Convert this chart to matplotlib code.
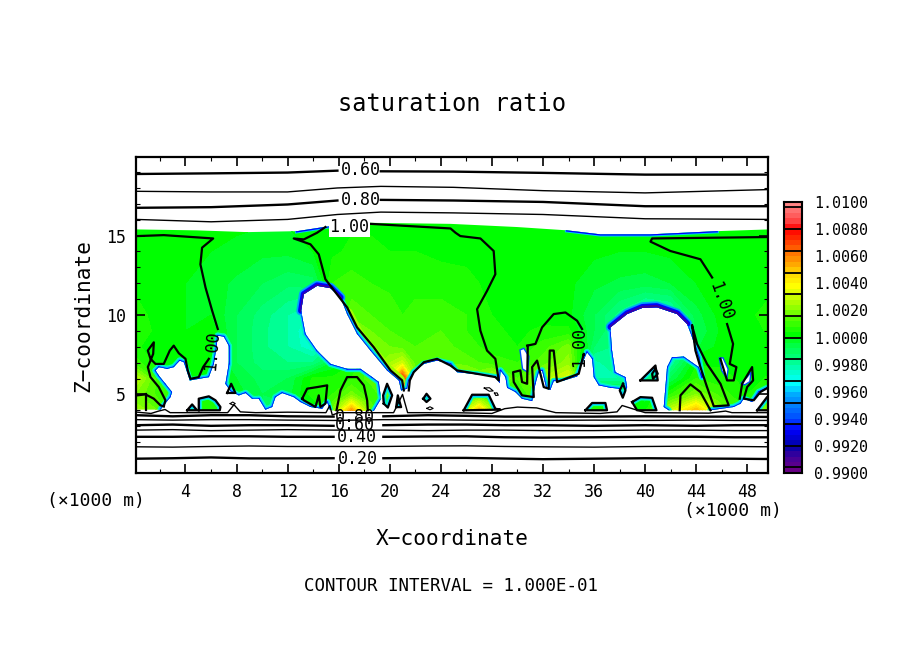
import numpy as np
import matplotlib
matplotlib.use("Agg")
import matplotlib.pyplot as plt
from matplotlib.collections import LineCollection
from matplotlib.colors import LinearSegmentedColormap
from matplotlib.path import Path

plt.rcParams['font.family'] = 'DejaVu Sans Mono'

# field, (ratio - 1) * 1e4 on a coarse grid
x_f = [0,2,4,6,8,10,12,14,15.5,17,18.5,20,21,22,24,26,27,28,30,32,34,36,38,40,42,44,46,48,50]
z_f = [4,4.5,5,6,7,8,9,10,12,14,16]
f_z04 = [25,15,8,6,2,-8,-8,0,15,58,15,5,10,10,5,30,52,25,5,12,8,5,3,3,30,52,20,5,25]
f_z045 = [20,12,6,6,0,-8,-8,2,12,35,12,8,25,15,5,20,30,15,6,14,10,5,2,0,18,35,14,5,18]
f_z05 = [20,10,4,5,-2,-8,-6,6,8,18,8,18,45,15,8,10,12,8,8,18,12,3,0,-5,8,20,10,4,10]
f_z06 = [30,8,3,4,-4,-10,-8,5,5,8,14,40,75,22,30,25,20,28,12,25,35,-20,-20,-15,-8,8,6,2,5]
f_z07 = [10,2,0,2,-8,-14,-16,-16,-4,3,14,24,30,14,16,14,12,10,8,14,22,-22,-15,-20,-20,3,3,2,3]
f_z08 = [5,1,0,3,-8,-15,-20,-28,-12,15,20,16,14,12,14,10,8,6,4,10,18,-12,-18,-18,-20,-5,2,2,3]
f_z09 = [8,2,0,2,-8,-15,-20,-30,-4,25,16,12,10,10,12,8,6,5,3,5,5,-8,-18,-25,-25,-8,1,2,5]
f_z10 = [6,2,0,0,-8,-14,-20,-26,4,14,12,10,8,9,10,8,6,4,2,2,1,-8,-18,-28,-25,-6,2,3,6]
f_z12 = [3,2,0,-2,-5,-8,-11,-10,8,10,8,7,6,7,6,5,4,3,2,2,1,-3,-5,-6,-4,0,1,2,3]
f_z14 = [2,2,1,0,-1,-3,-3,0,3,5,5,4,4,4,3,3,2,2,2,1,1,1,0,0,1,1,1,2,2]
f_z16 = [2,2,1,1,1,1,1,2,3,3,3,3,3,3,2,2,2,2,2,2,1,1,1,1,1,1,1,2,2]

# outline of the main coloured area (below that it is out of range and white)
main_x = [0.1,2.04,2.30,2.82,2.95,2.43,1.91,1.65,1.91,2.56,3.08,3.55,3.87,4.13,4.34,5.04,5.83,6.22,6.43,6.53,
          7.00,7.39,7.39,7.13,7.52,8.18,8.70,9.22,9.74,10.26,10.79,11.05,11.57,12.48,13.01,13.79,14.70,15.10,15.30,
          15.75,18.75,19.32,19.14,18.62,17.71,16.66,15.36,14.31,13.40,13.06,13.27,14.31,15.36,16.14,16.66,17.44,18.49,
          19.79,20.71,20.89,21.36,21.49,21.88,22.67,23.71,24.76,25.27,26.84,28.27,28.61,28.67,29.06,29.19,29.84,30.36,
          31.15,31.41,31.67,31.93,32.27,32.58,32.84,33.50,34.67,35.06,35.45,35.85,35.98,36.37,37.28,37.94,38.27,38.59,
          38.46,37.67,37.41,37.28,38.59,39.76,40.94,42.50,43.29,43.68,44.20,44.46,44.20,43.03,42.11,41.72,41.46,41.85,
          45.12,46.94,47.47,47.73,48.38,48.90,49.7,49.7,45.6,40.4,36.5,33.9,29.97,24.75,17.97,14.83,12.74,8.83,4.91,0.1]
main_z = [4.04,4.04,4.31,4.83,5.15,5.67,6.19,6.51,6.72,6.61,6.72,7.13,7.03,6.40,5.88,5.98,6.09,6.92,7.97,8.70,
          8.64,8.07,6.92,5.67,5.21,4.94,5.09,4.73,4.73,4.04,4.21,4.83,5.09,4.83,4.52,4.21,4.10,4.52,4.04,
          3.96,3.96,4.73,5.78,6.09,6.61,6.61,6.92,7.76,8.81,10.27,11.31,11.84,11.69,11.10,10.06,8.81,7.76,
          6.51,5.88,5.25,5.36,5.88,6.40,6.92,7.13,6.92,6.40,6.26,6.09,5.71,6.51,6.09,5.42,5.15,4.73,
          4.58,5.67,6.40,6.51,5.36,5.29,5.84,5.84,6.13,6.92,7.66,7.24,6.09,5.57,5.42,5.36,4.79,5.46,
          6.09,6.40,7.76,9.22,10.06,10.44,10.48,10.06,9.43,8.60,7.34,6.09,6.72,7.38,7.34,6.72,4.21,4.0,
          4.0,4.21,4.42,4.73,4.52,5.15,5.46,15.39,15.28,15.08,15.08,15.33,15.54,15.74,15.81,15.54,15.28,15.22,15.33,15.39]

# separate islands of coloured cells
islands = [
    ([4.13,4.52,4.91], [4.0,4.37,4.0]),
    ([5.04,5.04,5.83,6.35,6.74,6.69], [4.0,4.73,4.88,4.63,4.21,4.0]),
    ([19.53,19.48,19.79,20.19,19.85], [4.42,4.94,5.67,4.94,4.17]),
    ([20.5,20.63,20.89], [4.2,4.94,4.2]),
    ([22.62,22.88,23.19,22.88], [4.73,5.04,4.73,4.52]),
    ([25.79,26.45,27.75,28.27,28.67], [4.0,4.98,4.98,4.1,4.04]),
    ([35.32,35.85,36.89,37.02], [4.0,4.46,4.46,4.0]),
    ([38.98,39.63,40.55,40.89,39.37], [4.52,4.83,4.79,4.0,4.0]),
    ([39.63,40.81,40.99], [5.88,6.82,5.88]),
    ([48.77,49.55,49.7,49.7], [4.0,4.83,4.83,4.0]),
]
# white spots inside the main area
spots = [
    ([30.2,30.5,30.9,30.8,30.4], [7.8,7.9,7.4,6.4,6.6]),
    ([45.8,46.1,46.5,46.4,46.0], [7.3,7.3,6.6,6.0,6.5]),
    ([47.5,48.0,48.3,48.2,47.8], [5.7,6.1,6.4,5.8,5.6]),
]
# thicker blue edge on top of the domes and under the cloud top
dome_x = [37.3,38.6,39.8,40.9,42.5,43.3]
dome_z = [9.25,10.1,10.5,10.55,10.1,9.45]
plume_x = [13.06,13.27,14.31,15.36,16.14]
plume_z = [10.27,11.31,11.86,11.72,11.1]
top_rim = [
    ([12.74,14.83,16.0], [15.28,15.54,15.7]),
    ([33.9,36.5,40.4,45.6], [15.33,15.08,15.08,15.28]),
]
# warm band on the outside of the big plume
warm_x = [16.66,17.44,18.49,19.79,20.71]
warm_z = [10.06,8.81,7.76,6.51,5.88]

# the 1.00 contour, traced in pieces
contour_100 = [
    ([0.21,2.30,6.17,5.30,5.17,5.57,6.09,6.53], [14.97,15.03,14.82,14.24,13.19,11.73,10.27,9.12]),
    ([5.83,5.38,5.04,4.39,4.18,4.0,3.48,3.08,2.77,2.30,1.65,1.26,1.05,1.52,1.47,1.05,1.26,1.91,2.43,2.30],
     [7.24,6.72,6.09,5.98,6.51,7.24,7.59,8.07,7.76,6.92,6.92,7.24,7.76,8.28,7.55,6.72,6.09,5.46,4.63,4.25]),
    ([0.21,0.87,1.52,2.04,2.30], [4.94,5.0,4.73,4.31,4.25]),
    ([0.94,0.94], [5.0,4.04]),
    ([14.96,14.31,13.27,12.48,13.79,14.44,14.96,16.66,17.44,18.75,20.06,20.97,21.1],
     [15.54,15.18,14.76,14.82,14.45,13.82,12.25,10.48,9.22,7.97,6.51,5.88,5.25]),
    ([18.49,24.76,25.15,25.53,27.1,28.14,28.27,27.62,26.84,27.1,27.62,28.27,28.54,28.27,27.1,25.27,24.75,23.71,22.67,21.88,21.57,21.49],
     [15.74,15.45,15.18,14.97,14.82,14.03,12.57,11.52,10.37,9.01,7.76,7.24,5.88,6.09,6.26,6.51,6.82,7.24,7.03,6.40,5.88,5.25]),
    ([15.83,16.14,16.66,17.44,17.97,18.23,18.28], [4.0,5.25,6.09,6.09,5.57,4.63,4.0]),
    ([13.14,13.53,14.31,15.1,14.96,14.57,14.44,14.18,13.27,13.14], [4.73,5.36,5.46,5.57,4.42,4.21,4.94,4.21,4.63,4.73]),
    ([7.26,7.58,7.91,7.26], [5.09,5.67,5.09,5.09]),
    ([49.7,40.55,40.42,41.98,44.33,45.25], [14.91,14.82,14.62,14.03,13.51,12.36]),
    ([46.42,46.89,46.63,47.15,46.94,46.42,45.9], [9.43,8.18,6.92,6.72,5.88,5.88,7.24]),
    ([43.68,44.07,44.85,45.9,46.55,45.38,44.85,44.33,43.94,43.68], [9.33,8.18,6.92,5.67,4.31,4.25,5.46,6.72,7.76,9.33]),
    ([42.71,42.77,43.55,44.33,45.12], [4.0,4.94,5.63,5.15,4.0]),
    ([47.41,47.6,48.38,48.46,47.99,47.73,48.51,49.03,49.7], [4.73,5.67,6.72,5.88,5.46,4.73,4.63,5.15,5.46]),
    ([30.76,31.41,31.93,32.84,33.76,34.67,35.06], [8.07,8.18,9.22,10.06,10.16,9.64,9.12]),
    ([35.19,34.8,33.1,32.84,32.53,32.45,32.06,31.54,31.15,31.28,30.36,29.71,29.66,30.23,30.36,30.76,30.81],
     [7.55,6.3,5.78,7.76,7.76,5.36,5.46,7.13,6.72,4.83,4.94,5.78,6.4,6.51,5.78,5.67,8.07]),
    ([38.27,38.46,38.25,38.01,38.27], [5.67,5.25,4.79,5.25,5.67]),
    ([40.81,40.99,40.62,40.55,40.81], [6.61,6.3,5.98,6.3,6.61]),
]
# small thin contours in the white area
thin_loops = [
    ([7.5,7.7,7.9,7.7,7.5], [4.42,4.52,4.42,4.33,4.42]),
    ([22.9,23.15,23.4,23.15,22.9], [4.12,4.22,4.12,4.03,4.12]),
    ([27.4,27.8,28.1,27.8,27.4], [5.4,5.42,5.22,5.2,5.4]),
    ([28.2,28.4,28.5,28.3,28.2], [5.08,5.1,4.95,4.93,5.08]),
]

# upper and lower stacks of the other contours, nan is the gap for the labels
x_up = [0.1,6,12,15.9,np.nan,19.3,25,32,40,49.7]
z_up_060 = [18.88,18.92,18.97,19.09,np.nan,19.05,19.03,18.95,18.84,18.84]
z_up_070 = [17.79,17.75,17.75,18.0,18.05,18.1,18.04,17.83,17.69,17.9]
z_up_080 = [16.75,16.79,16.96,17.21,np.nan,17.25,17.21,17.12,16.85,16.85]
z_up_090 = [16.02,15.87,16.02,16.33,16.4,16.48,16.43,16.33,16.06,16.02]
x_low = [0.1,3,6,9,12,15.6,np.nan,19.5,23,26,29,32,36,40,44,47,49.7]
z_low_020 = [0.95,0.98,1.03,0.97,0.97,0.98,np.nan,0.98,1.0,1.0,0.96,0.92,0.95,0.98,0.96,0.95,0.93]
z_low_030 = [1.70,1.68,1.72,1.75,1.72,1.72,1.72,1.72,1.75,1.76,1.72,1.70,1.68,1.72,1.74,1.72,1.70]
z_low_040 = [2.33,2.33,2.36,2.36,2.33,2.33,np.nan,2.33,2.35,2.36,2.30,2.28,2.30,2.33,2.33,2.30,2.30]
z_low_050 = [2.75,2.78,2.72,2.75,2.78,2.75,2.75,2.75,2.72,2.75,2.75,2.72,2.72,2.75,2.75,2.72,2.72]
z_low_060 = [3.06,3.10,3.02,3.06,3.06,3.02,np.nan,3.06,3.10,3.10,3.06,3.06,3.02,3.06,3.02,3.06,3.06]
z_low_070 = [3.41,3.38,3.41,3.41,3.38,3.36,3.36,3.41,3.41,3.38,3.36,3.36,3.38,3.36,3.38,3.36,3.36]
z_low_080 = [3.69,3.62,3.69,3.69,3.62,3.60,np.nan,3.62,3.69,3.65,3.60,3.60,3.60,3.62,3.60,3.60,3.58]
x_090 = [0.1,1.3,1.9,2.4,2.8,4.5,7.3,7.8,8.3,9.5,12,15,15.3,15.5,16,19,20.3,21,21.4,22,25,28,29,30,31.5,33,36.5,37.8,38.2,40,45,46.3,46.8,48,49.7]
z_090 = [3.89,3.80,3.95,4.05,3.85,3.85,3.85,4.35,3.9,3.85,3.88,3.85,4.3,3.7,3.85,3.85,3.85,5.0,3.85,3.85,3.85,3.8,4.1,4.2,4.15,3.85,3.8,3.9,4.3,3.85,3.82,3.95,3.85,3.85,3.85]

# colorbar
cb_levels = [0.9900,0.9920,0.9940,0.9960,0.9980,1.0000,1.0020,1.0040,1.0060,1.0080,1.0100]
cb_lines = [1.00966,1.00803,1.00638,1.00478,1.00323,1.00158,0.99998,0.99842,0.99677,0.99517,0.99362,0.99202,0.99042]
cb_values = [0.9900,0.9910,0.9920,0.9932,0.9942,0.9957,0.9966,0.9972,0.9984,0.9994,1.0002,1.0016,1.0030,1.0038,1.0048,1.0062,1.0080,1.0088,1.0100]
cb_colors = ['#6e0082','#460096','#0000aa','#0000ff','#005aff','#00a0ff','#00ffff','#00ffdc','#00ff82','#00ff46','#00ff00','#64ff00','#c8ff00','#ffff00','#ffd200','#ff7800','#ff0000','#ff5050','#ff8c8c']

x_ticks = [4,8,12,16,20,24,28,32,36,40,44,48]
x_minor = [2,6,10,14,18,22,26,30,34,38,42,46]
z_ticks = [5,10,15]
z_minor = [1,2,3,4,6,7,8,9,11,12,13,14,16,17,18,19]

cb_pos = [round((v-0.99)/0.02, 4) for v in cb_values]
cmap = LinearSegmentedColormap.from_list('sat', list(zip(cb_pos, cb_colors)), N=256)
bands = np.linspace(0.99, 1.01, 51)

fig = plt.figure(figsize=(9.04, 6.54), dpi=100)
ax = fig.add_axes([136/904, (654-473)/654, 632/904, 316/654])

field = 1 + np.array([f_z04,f_z045,f_z05,f_z06,f_z07,f_z08,f_z09,f_z10,f_z12,f_z14,f_z16]) * 1e-4
cs = ax.contourf(x_f, z_f, field, levels=bands, cmap=cmap, vmin=0.99, vmax=1.01)

# clip the field to the coloured areas
verts = []
codes = []
for px, pz in [(main_x, main_z)] + islands:
    pts = list(zip(px, pz))
    verts += pts + [pts[0]]
    codes += [Path.MOVETO] + [Path.LINETO]*(len(pts)-1) + [Path.CLOSEPOLY]
clip = Path(verts, codes)
cs.set_clip_path(clip, ax.transData)

for col, lw in [('#a0ff00',9), ('#ffe600',5)]:
    ln, = ax.plot(warm_x, warm_z, color=col, lw=lw, solid_capstyle='round')
    ln.set_clip_path(clip, ax.transData)

# edges fade to blue where the ratio falls out of range
for px, pz in [(main_x, main_z)] + islands:
    segs = []
    for i in range(len(px)-1):
        if (pz[i] > 4.1 or pz[i+1] > 4.1) and pz[i] < 15 and pz[i+1] < 15:
            if px[i] < 49.7 or px[i+1] < 49.7:
                segs.append([(px[i], pz[i]), (px[i+1], pz[i+1])])
    for col, lw in [('#00ffb4',4.5), ('#00c8ff',2.8), ('#0000ff',1.1)]:
        lc = LineCollection(segs, colors=col, linewidths=lw, capstyle='round')
        ax.add_collection(lc)
        lc.set_clip_path(clip, ax.transData)
for (lx, lz) in [(dome_x, dome_z), (plume_x, plume_z)]:
    for col, lw in [('#00a0ff',7), ('#0000ff',4.5), ('#3c00a0',2)]:
        ln, = ax.plot(lx, lz, color=col, lw=lw, solid_capstyle='round')
        ln.set_clip_path(clip, ax.transData)
for lx, lz in top_rim:
    for col, lw in [('#00c8ff',3.2), ('#0000ff',1.8)]:
        ln, = ax.plot(lx, lz, color=col, lw=lw)
        ln.set_clip_path(clip, ax.transData)
for sx, sz in spots:
    ax.fill(sx, sz, facecolor='white', edgecolor='#0050ff', lw=1.0)

# contours
for lx, lz in contour_100:
    ax.plot(lx, lz, color='black', lw=1.6)
for lx, lz in islands:
    ax.plot(lx + lx[:1], lz + lz[:1], color='black', lw=1.6)
for lx, lz in thin_loops:
    ax.plot(lx, lz, color='black', lw=0.8)
for lz in [z_up_060, z_up_080]:
    ax.plot(x_up, lz, color='black', lw=1.7)
for lz in [z_up_070, z_up_090]:
    ax.plot([v for v in x_up if v == v], [v for v, u in zip(lz, x_up) if u == u], color='black', lw=1.0)
for lz in [z_low_020, z_low_040, z_low_060, z_low_080]:
    ax.plot(x_low, lz, color='black', lw=1.7)
for lz in [z_low_030, z_low_050, z_low_070]:
    ax.plot([v for v in x_low if v == v], [v for v, u in zip(lz, x_low) if u == u], color='black', lw=1.0)
ax.plot(x_090, z_090, color='black', lw=1.0)

# contour labels
lab = dict(fontsize=12, ha='center', va='center', color='black')
ax.text(17.7, 19.11, '0.60', **lab)
ax.text(17.7, 17.23, '0.80', **lab)
ax.text(16.84, 15.53, '1.00', bbox=dict(fc='white', ec='none', pad=0.5), **lab)
ax.text(17.3, 3.60, '0.80', **lab)
ax.text(17.3, 3.06, '0.60', **lab)
ax.text(17.4, 2.31, '0.40', **lab)
ax.text(17.5, 0.93, '0.20', **lab)
ax.text(6.1, 7.76, '1.00', rotation=85, **lab)
ax.text(34.8, 7.97, '1.00', rotation=90, **lab)
ax.text(45.9, 10.9, '1.00', rotation=-70, **lab)

ax.set_xlim(0.125, 49.625)
ax.set_ylim(0.05, 19.95)
ax.set_xticks(x_ticks)
ax.set_xticks(x_minor, minor=True)
ax.set_yticks(z_ticks)
ax.set_yticks(z_minor, minor=True)
ax.tick_params(which='major', direction='in', top=True, right=True, length=6.5, width=1.2, labelsize=12, pad=7)
ax.tick_params(which='minor', direction='in', top=True, right=True, length=3, width=0.8)
for s in ax.spines.values():
    s.set_linewidth(1.6)

fig.text(452/904, 1-104/654, 'saturation ratio', fontsize=17, ha='center', va='center')
fig.text(452/904, 1-539/654, 'X\u2212coordinate', fontsize=15.2, ha='center', va='center')
fig.text(83/904, 1-315/654, 'Z\u2212coordinate', fontsize=15.2, rotation=90, ha='center', va='center')
fig.text(451/904, 1-586/654, 'CONTOUR INTERVAL = 1.000E-01', fontsize=12.6, ha='center', va='center')
fig.text(96/904, 1-501/654, '(\u00d71000 m)', fontsize=13, ha='center', va='center')
fig.text(733/904, 1-511/654, '(\u00d71000 m)', fontsize=13, ha='center', va='center')

# colorbar
cax = fig.add_axes([784/904, (654-473)/654, 18/904, 271/654])
cax.pcolormesh([0, 1], bands, ((bands[:-1]+bands[1:])/2)[:, None], cmap=cmap, vmin=0.99, vmax=1.01)
cax.hlines(cb_lines, 0, 1, color='black', lw=1.3)
cax.set_xlim(0, 1)
cax.set_ylim(0.99, 1.01)
cax.set_xticks([])
cax.set_yticks(cb_levels)
cax.set_yticklabels(['%.4f' % v for v in cb_levels])
cax.yaxis.tick_right()
cax.tick_params(length=0, labelsize=10.8, pad=9)
for s in cax.spines.values():
    s.set_linewidth(1.5)

fig.savefig('out.png', dpi=100)
